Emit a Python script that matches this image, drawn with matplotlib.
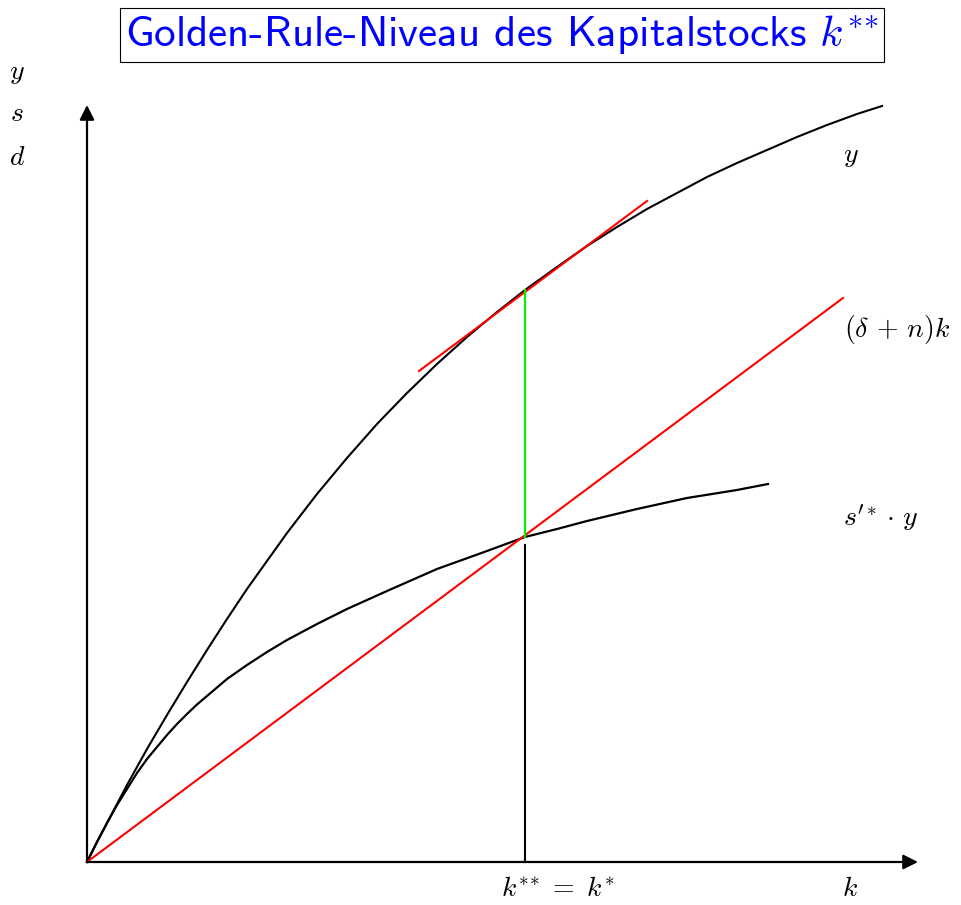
import matplotlib
matplotlib.use("Agg")
import matplotlib.pyplot as plt

plt.rcParams["mathtext.fontset"] = "cm"

# ---------------------------------------------------------------------------
# Data (k on the x axis, output on the y axis)
# ---------------------------------------------------------------------------

# production function y(k)
y_k = [0, 0.1, 0.2, 0.3, 0.4, 0.5, 0.6, 0.8, 1.0, 1.2, 1.4, 1.6, 1.8, 2.0,
       2.3, 2.6, 2.9, 3.2, 3.5, 3.8, 4.1, 4.38, 4.7, 5.0, 5.3, 5.6, 5.9, 6.2,
       6.5, 6.8, 7.1, 7.4, 7.7, 7.95]
y_val = [0, 0.20, 0.39, 0.58, 0.77, 0.95, 1.13, 1.47, 1.80, 2.12, 2.43, 2.73,
         3.01, 3.29, 3.68, 4.04, 4.38, 4.69, 4.98, 5.25, 5.50, 5.72, 5.95,
         6.16, 6.35, 6.53, 6.69, 6.85, 6.99, 7.12, 7.25, 7.37, 7.48, 7.56]

# savings curve s'* . y
sy_k = [0, 0.1, 0.2, 0.3, 0.4, 0.5, 0.6, 0.7, 0.8, 0.9, 1.0, 1.1, 1.2, 1.4,
        1.6, 1.8, 2.0, 2.3, 2.6, 3.0, 3.5, 4.0, 4.38, 4.7, 5.0, 5.5, 6.0,
        6.5, 6.81]
sy_val = [0, 0.20, 0.39, 0.57, 0.73, 0.89, 1.03, 1.15, 1.27, 1.38, 1.48,
          1.575, 1.66, 1.83, 1.97, 2.10, 2.22, 2.38, 2.53, 2.71, 2.93, 3.11,
          3.25, 3.33, 3.41, 3.53, 3.64, 3.72, 3.78]

# break-even line (delta + n) k
ray_k = [0, 7.56]
ray_val = [0, 5.64]

# tangent on y at the golden-rule point
tan_k = [3.32, 5.60]
tan_val = [4.91, 6.61]

k_star = 4.38
y_at_star = 5.72
sy_at_star = 3.25

x_axis_end = 8.31
y_axis_end = 7.57

# ---------------------------------------------------------------------------
# Plot
# ---------------------------------------------------------------------------

fig = plt.figure(figsize=(9.61, 9.05), dpi=100)
ax = fig.add_axes([0, 0, 1, 1])
ax.set_xlim(-0.87, 8.74)
ax.set_ylim(-0.43, 8.62)
ax.axis("off")

arrow = dict(arrowstyle="-|>", mutation_scale=22, lw=1.6, color="black",
             shrinkA=0, shrinkB=0)
ax.annotate("", xy=(x_axis_end, 0), xytext=(0, 0), arrowprops=arrow)
ax.annotate("", xy=(0, y_axis_end), xytext=(0, 0), arrowprops=arrow)

ax.plot(y_k, y_val, color="black", lw=1.5, solid_joinstyle="round")
ax.plot(sy_k, sy_val, color="black", lw=1.6, solid_joinstyle="round")
ax.plot(ray_k, ray_val, color="red", lw=1.5)
ax.plot(tan_k, tan_val, color="red", lw=1.5)

ax.plot([k_star, k_star], [sy_at_star, y_at_star], color="#00ee00", lw=1.6)
ax.plot([k_star, k_star], [0, sy_at_star - 0.08], color="black", lw=1.5)

# labels
fs = 20
ax.text(-0.70, 7.90, "$y$", fontsize=fs, ha="center", va="center")
ax.text(-0.70, 7.49, "$s$", fontsize=fs, ha="center", va="center")
ax.text(-0.70, 7.05, "$d$", fontsize=fs, ha="center", va="center")
ax.text(7.64, 7.07, "$y$", fontsize=fs, ha="center", va="center")
ax.text(7.57, 5.32, r"$(\delta\,+\,n)k$", fontsize=fs, ha="left", va="center")
ax.text(7.56, 3.44, r"$s^{\prime *}\cdot\,y$", fontsize=fs, ha="left", va="center")
ax.text(4.71, -0.26, r"$k^{*\!*}\,=\;k^{*}$", fontsize=fs, ha="center", va="center")
ax.text(7.63, -0.26, "$k$", fontsize=fs, ha="center", va="center")

ax.text(5.02 - 0.87, 8.27, r"Golden-Rule-Niveau des Kapitalstocks $k^{*\!*}$",
        fontsize=31, family="cmss10", color="#0000ff", ha="center", va="center",
        bbox=dict(boxstyle="square,pad=0.12", fc="white", ec="black", lw=0.8))

fig.savefig("out.png", dpi=100)
